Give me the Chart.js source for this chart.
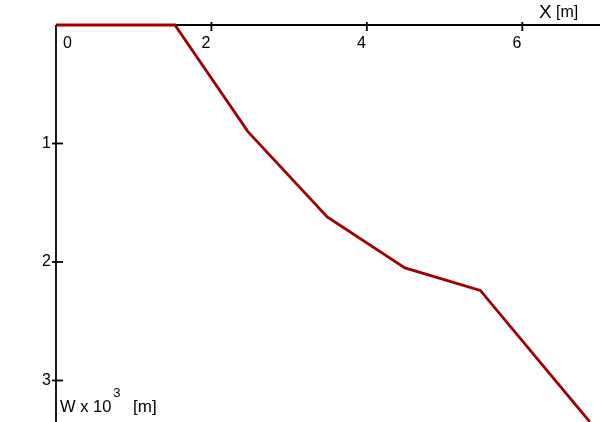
<!DOCTYPE html>
<html lang="en">
<head>
    <meta charset="utf-8" />
    <title>W vs X profile</title>
    <script src="https://cdn.jsdelivr.net/npm/chart.js@4.4.1/dist/chart.umd.min.js"></script>
    <style>
        html, body { margin: 0; padding: 0; background: #fff; }
        #chart { display: block; }
    </style>
</head>
<body>
    <canvas id="chart" width="600" height="422"></canvas>
    <script>
        // profile data
        const xValues = [0, 1.53, 2.47, 3.49, 4.49, 5.46, 6.87];
        const wValues = [0, 0, 0.90, 1.62, 2.05, 2.24, 3.35];

        // tick labels
        const xTicks = [0, 2, 4, 6];
        const yTicks = [1, 2, 3];

        const xTitle = 'X';
        const unitText = '[m]';
        const yTitleMain = 'W x 10';
        const yTitleExp = '3';

        const FONT = '"Liberation Sans", Arial, sans-serif';

        // draws the axes at top/left like the original drawing
        const axesPlugin = {
            id: 'axesPlugin',
            beforeDatasetsDraw(chart) {
                const ctx = chart.ctx;
                const xs = chart.scales.x;
                const ys = chart.scales.y;
                const ox = xs.getPixelForValue(0);
                const oy = ys.getPixelForValue(0);

                ctx.save();
                ctx.strokeStyle = '#000';
                ctx.fillStyle = '#000';
                ctx.lineWidth = 1.8;

                // x axis (top)
                ctx.beginPath();
                ctx.moveTo(ox, oy);
                ctx.lineTo(chart.width, oy);
                ctx.stroke();

                // y axis (left)
                ctx.beginPath();
                ctx.moveTo(ox, oy);
                ctx.lineTo(ox, chart.height);
                ctx.stroke();

                // x ticks + labels
                ctx.font = '16px ' + FONT;
                ctx.textBaseline = 'top';
                xTicks.forEach(v => {
                    const px = xs.getPixelForValue(v);
                    if (v !== 0) {
                        ctx.beginPath();
                        ctx.moveTo(px, oy - 3);
                        ctx.lineTo(px, oy + 6);
                        ctx.stroke();
                        ctx.textAlign = 'right';
                        ctx.fillText(String(v), px - 1, oy + 11);
                    } else {
                        ctx.textAlign = 'left';
                        ctx.fillText(String(v), px + 7, oy + 11);
                    }
                });

                // y ticks + labels
                ctx.textBaseline = 'middle';
                ctx.textAlign = 'right';
                yTicks.forEach(v => {
                    const py = ys.getPixelForValue(v);
                    ctx.beginPath();
                    ctx.moveTo(ox - 4, py);
                    ctx.lineTo(ox + 7, py);
                    ctx.stroke();
                    ctx.fillText(String(v), ox - 5, py);
                });

                // x title
                ctx.textAlign = 'left';
                ctx.textBaseline = 'alphabetic';
                ctx.font = '19px ' + FONT;
                ctx.fillText(xTitle, 539, 18);
                ctx.font = '16px ' + FONT;
                ctx.fillText(unitText, 556, 17);

                // y title
                ctx.font = '16.5px ' + FONT;
                ctx.fillText(yTitleMain, ox + 4, 412);
                const w = ctx.measureText(yTitleMain).width;
                ctx.font = '13px ' + FONT;
                ctx.fillText(yTitleExp, ox + 4 + w + 2, 397);
                ctx.font = '17px ' + FONT;
                ctx.fillText(unitText, ox + 77, 412);

                ctx.restore();
            }
        };

        new Chart(document.getElementById('chart'), {
            type: 'line',
            data: {
                datasets: [{
                    data: xValues.map((x, i) => ({ x: x, y: wValues[i] })),
                    borderColor: '#a00000',
                    borderWidth: 2.8,
                    pointRadius: 0,
                    tension: 0,
                    fill: false,
                    clip: false
                }]
            },
            options: {
                responsive: false,
                animation: false,
                devicePixelRatio: 1,
                layout: { padding: { left: 56, right: 0, top: 25, bottom: 0 } },
                plugins: {
                    legend: { display: false },
                    tooltip: { enabled: false }
                },
                scales: {
                    x: { type: 'linear', min: 0, max: 7, display: false },
                    y: { type: 'linear', min: 0, max: 3.35, reverse: true, display: false }
                }
            },
            plugins: [axesPlugin]
        });
    </script>
</body>
</html>
